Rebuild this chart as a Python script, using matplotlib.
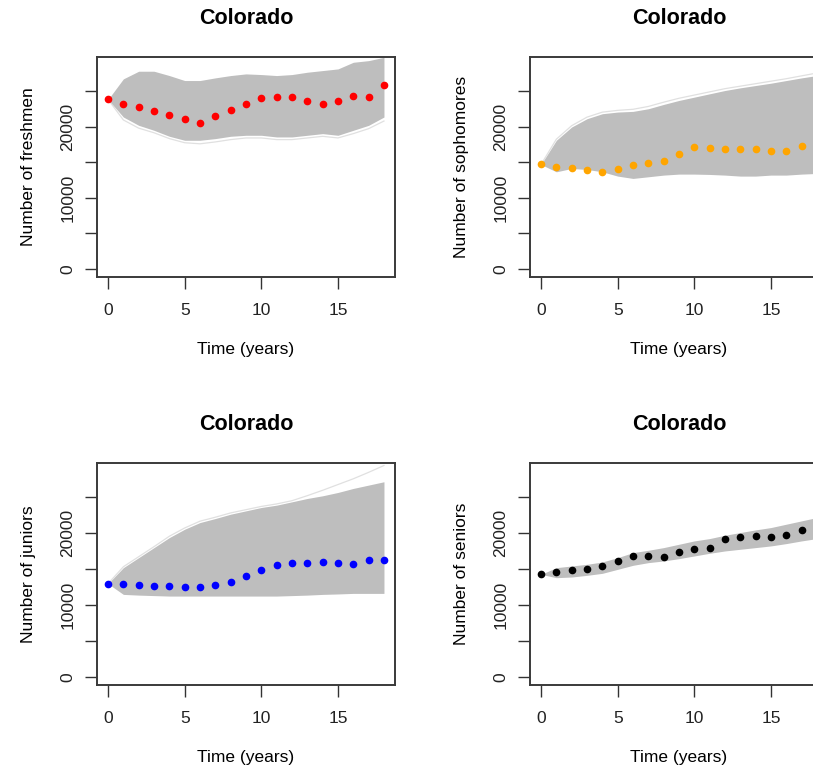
import matplotlib.pyplot as plt
import numpy as np

plt.rcParams['font.family'] = ['Liberation Sans', 'DejaVu Sans']

years = np.arange(19)

# observed (dots)
fresh = [23834, 23228, 22761, 22201, 21642, 21129, 20522, 21502, 22388, 23228,
         24067, 24160, 24207, 23647, 23134, 23554, 24300, 24160, 25886]
soph = [14692, 14366, 14132, 13899, 13573, 14086, 14552, 14925, 15205, 16231,
        17164, 17071, 16931, 16838, 16838, 16604, 16604, 17257, 17164]
junior = [12989, 12896, 12803, 12709, 12616, 12570, 12477, 12849, 13175, 14060,
          14944, 15549, 15829, 15922, 16015, 15922, 15736, 16294, 16248]
senior = [14292, 14572, 14851, 15084, 15410, 16108, 16899, 16853, 16713, 17365,
          17877, 18017, 19274, 19460, 19646, 19507, 19786, 20438, 19879]

# simulated envelope (gray band)
fresh_hi = [23834, 26726, 27799, 27799, 27192, 26493, 26493, 26866, 27192, 27425,
            27332, 27192, 27332, 27659, 27892, 28125, 29058, 29291, 29757]
fresh_lo = [23834, 21362, 20196, 19496, 18657, 18097, 18097, 18330, 18657, 18797,
            18797, 18563, 18563, 18797, 19030, 18797, 19496, 20196, 21362]
soph_hi = [14692, 18097, 19963, 21129, 21828, 22062, 22155, 22528, 23134, 23694,
           24160, 24627, 25093, 25466, 25793, 26119, 26493, 26866, 27192]
soph_lo = [14692, 13666, 14132, 13993, 13666, 13060, 12733, 12966, 13200, 13340,
           13340, 13293, 13200, 13060, 13060, 13200, 13200, 13340, 13433]
junior_hi = [12989, 15223, 16620, 18017, 19413, 20577, 21508, 22067, 22672, 23138,
             23603, 23929, 24395, 24860, 25233, 25698, 26257, 26723, 27188]
junior_lo = [12989, 11499, 11400, 11330, 11266, 11266, 11266, 11266, 11266, 11266,
             11266, 11266, 11330, 11400, 11499, 11560, 11639, 11639, 11639]
senior_hi = [14292, 15223, 15456, 15689, 16015, 16620, 17318, 17644, 18017, 18482,
             18948, 19274, 19739, 20112, 20484, 20810, 21276, 21741, 22207]
senior_lo = [14292, 13827, 13920, 14153, 14432, 14991, 15549, 15922, 16155, 16480,
             16853, 17225, 17551, 17784, 18017, 18250, 18575, 18948, 19274]

# outlying light trajectories
fresh_out = [23834, 20950, 19800, 19150, 18330, 17750, 17600, 17864, 18190, 18420,
             18420, 18190, 18190, 18420, 18650, 18424, 19030, 19729, 20800]
soph_out = [14692, 18250, 20150, 21350, 22050, 22300, 22450, 22850, 23450, 24000,
            24450, 24900, 25350, 25700, 26050, 26400, 26750, 27150, 27550]
junior_out = [12989, 15350, 16750, 18150, 19600, 20750, 21700, 22250, 22850, 23300,
              23750, 24100, 24550, 25250, 26000, 26800, 27600, 28500, 29450]

panels = [
    ('Number of freshmen', fresh, fresh_lo, fresh_hi, fresh_out, 'red'),
    ('Number of sophomores', soph, soph_lo, soph_hi, soph_out, 'orange'),
    ('Number of juniors', junior, junior_lo, junior_hi, junior_out, 'blue'),
    ('Number of seniors', senior, senior_lo, senior_hi, None, 'black'),
]

W, H = 813, 767
fig = plt.figure(figsize=(W / 100, H / 100), dpi=100)

# pixel boxes: left, top, right, bottom
boxes = [(97, 57, 395, 277), (530, 57, 828, 277),
         (97, 463, 395, 685), (530, 463, 828, 685)]

for (ylab, obs, lo, hi, out, col), (l, t, r, b) in zip(panels, boxes):
    ax = fig.add_axes([l / W, 1 - b / H, (r - l) / W, (b - t) / H])
    if out is not None:
        ax.plot(years, out, color='#E0E0E0', lw=0.9, zorder=0)
    ax.fill_between(years, lo, hi, color='#BEBEBE', lw=0, zorder=1)
    ax.plot(years, obs, 'o', color=col, ms=4.5, mec=col, zorder=3)

    ax.set_xlim(-0.72, 18.72)
    ax.set_ylim(-1120, 29800)
    ax.set_xticks([0, 5, 10, 15])
    ax.set_yticks([0, 5000, 10000, 15000, 20000, 25000])
    ax.set_yticklabels(['0', '', '10000', '', '20000', ''], rotation=90, va='center')
    ax.tick_params(axis='both', direction='out', length=8.5, width=1.0,
                   color='#333333', labelsize=12.5, labelcolor='#222222')
    ax.tick_params(axis='x', pad=10.5)
    ax.tick_params(axis='y', pad=7)
    for s in ax.spines.values():
        s.set_color('#3a3a3a')
        s.set_linewidth(1.4)

    ax.set_title('Colorado', fontsize=15.5, fontweight='bold', pad=24)
    ax.set_xlabel('Time (years)', fontsize=12.5)
    ax.set_ylabel(ylab, fontsize=12.5)
    ax.xaxis.set_label_coords(0.5, -0.295)
    ax.yaxis.set_label_coords(-0.205, 0.5)

fig.savefig('out.png', dpi=100)
